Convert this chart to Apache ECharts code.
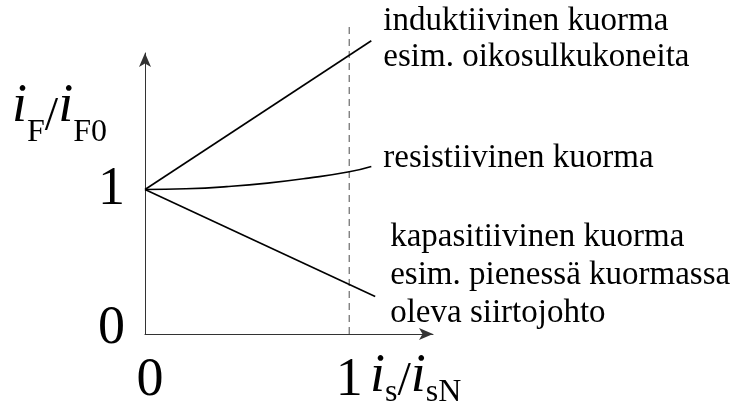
<!DOCTYPE html>
<html>
<head>
<meta charset="utf-8">
<script src="https://cdn.jsdelivr.net/npm/echarts@6/dist/echarts.min.js"></script>
<style>html,body{margin:0;padding:0;background:#fff;}#c{width:735px;height:408px;}</style>
</head>
<body>
<div id="c"></div>
<script>
// ---- data ----
const xTickValues = [0, 1];
const xTickLabels = ['0', '1'];
const yTickValues = [0, 1];
const yTickLabels = ['0', '1'];

const inductiveX = [0, 1.108];
const inductiveY = [1, 2.03];
const resistiveX = [0, 0.2, 0.4, 0.6, 0.8, 1.0, 1.108];
const resistiveY = [1, 1.005, 1.02, 1.044, 1.079, 1.123, 1.16];
const capacitiveX = [0, 1.127];
const capacitiveY = [1, 0.26];
const ratedX = [1, 1];
const ratedY = [0, 2.16];

const inductiveText = ['induktiivinen kuorma', 'esim. oikosulkukoneita'];
const resistiveText = ['resistiivinen kuorma'];
const capacitiveText = ['kapasitiivinen kuorma', 'esim. pienessä kuormassa', 'oleva siirtojohto'];

const xMax = 1.41;
const yMax = 1.945;

const serif = '"Liberation Serif", "Times New Roman", serif';
const zip = (xs, ys) => xs.map((x, i) => [x, ys[i]]);

const chart = echarts.init(document.getElementById('c'), null, {renderer: 'canvas'});

function endLabel(lines, dy, dist, lh) {
  return {
    show: true,
    formatter: lines.join('\n'),
    fontFamily: serif,
    fontSize: 33,
    lineHeight: lh,
    color: '#000',
    align: 'left',
    verticalAlign: 'middle',
    distance: dist,
    offset: [0, dy]
  };
}

function nameRich(iPad, subSize) {
  return {
    i: {fontFamily: serif, fontStyle: 'italic', fontSize: 54, lineHeight: 54, verticalAlign: 'bottom', padding: [0, 0, iPad, 0], fill: '#000'},
    s: {fontFamily: serif, fontSize: subSize, lineHeight: subSize, verticalAlign: 'bottom', fill: '#000'},
    sl: {fontFamily: serif, fontSize: 48, lineHeight: 48, verticalAlign: 'bottom', padding: [0, 0, Math.round(iPad * 0.5), 0], fill: '#000'}
  };
}

const option = {
  animation: false,
  backgroundColor: '#fff',
  grid: {left: 145, right: 302, top: 53, bottom: 71, containLabel: false},
  xAxis: {
    type: 'value', min: 0, max: xMax, interval: 1,
    splitLine: {show: false}, axisTick: {show: false},
    axisLine: {show: true, lineStyle: {color: '#333', width: 1}, symbol: ['none', 'arrow'], symbolSize: [9, 14]},
    axisLabel: {
      margin: 20,
      fontFamily: serif, fontSize: 54, color: '#000',
      formatter: v => {
        const k = xTickValues.indexOf(v);
        if (k < 0) return '';
        return k === 0 ? '{z|' + xTickLabels[k] + '}' : xTickLabels[k];
      },
      rich: {z: {fontFamily: serif, fontSize: 54, color: '#000', padding: [0, 0, 0, 10]}}
    }
  },
  yAxis: {
    type: 'value', min: 0, max: yMax, interval: 1,
    splitLine: {show: false}, axisTick: {show: false},
    axisLine: {show: true, lineStyle: {color: '#333', width: 1}, symbol: ['none', 'arrow'], symbolSize: [9, 14]},
    axisLabel: {
      margin: 20,
      fontFamily: serif, fontSize: 54, color: '#000',
      formatter: v => {
        const k = yTickValues.indexOf(v);
        if (k < 0) return '';
        return k === 0 ? '{z|' + yTickLabels[k] + '}' : yTickLabels[k];
      },
      rich: {z: {fontFamily: serif, fontSize: 54, color: '#000', padding: [0, 0, 10, 0]}}
    }
  },
  series: [
    {
      type: 'line', data: zip(ratedX, ratedY), clip: false, symbol: 'none', silent: true,
      lineStyle: {color: '#777', width: 1.3, type: [7, 5]}
    },
    {
      type: 'line', data: zip(inductiveX, inductiveY), clip: false, symbol: 'none',
      lineStyle: {color: '#000', width: 1.6},
      endLabel: endLabel(inductiveText, -1.6, 12, 36.5)
    },
    {
      type: 'line', data: zip(resistiveX, resistiveY), clip: false, symbol: 'none', smooth: true,
      lineStyle: {color: '#000', width: 1.6},
      endLabel: endLabel(resistiveText, -8, 12, 36.5)
    },
    {
      type: 'line', data: zip(capacitiveX, capacitiveY), clip: false, symbol: 'none',
      lineStyle: {color: '#000', width: 1.6},
      endLabel: endLabel(capacitiveText, -21, 15, 38)
    }
  ],
  graphic: [
    {
      type: 'text', left: 12, top: 80,
      style: {
        text: '{i|i}{s|F}{sl|/}{i|i}{s|F0}',
        rich: nameRich(15, 32)
      }
    },
    {
      type: 'text', left: 370, top: 350,
      style: {
        text: '{i|i}{s|s}{sl|/}{i|i}{s|sN}',
        rich: nameRich(5, 32)
      }
    }
  ]
};
chart.setOption(option);
</script>
</body>
</html>
